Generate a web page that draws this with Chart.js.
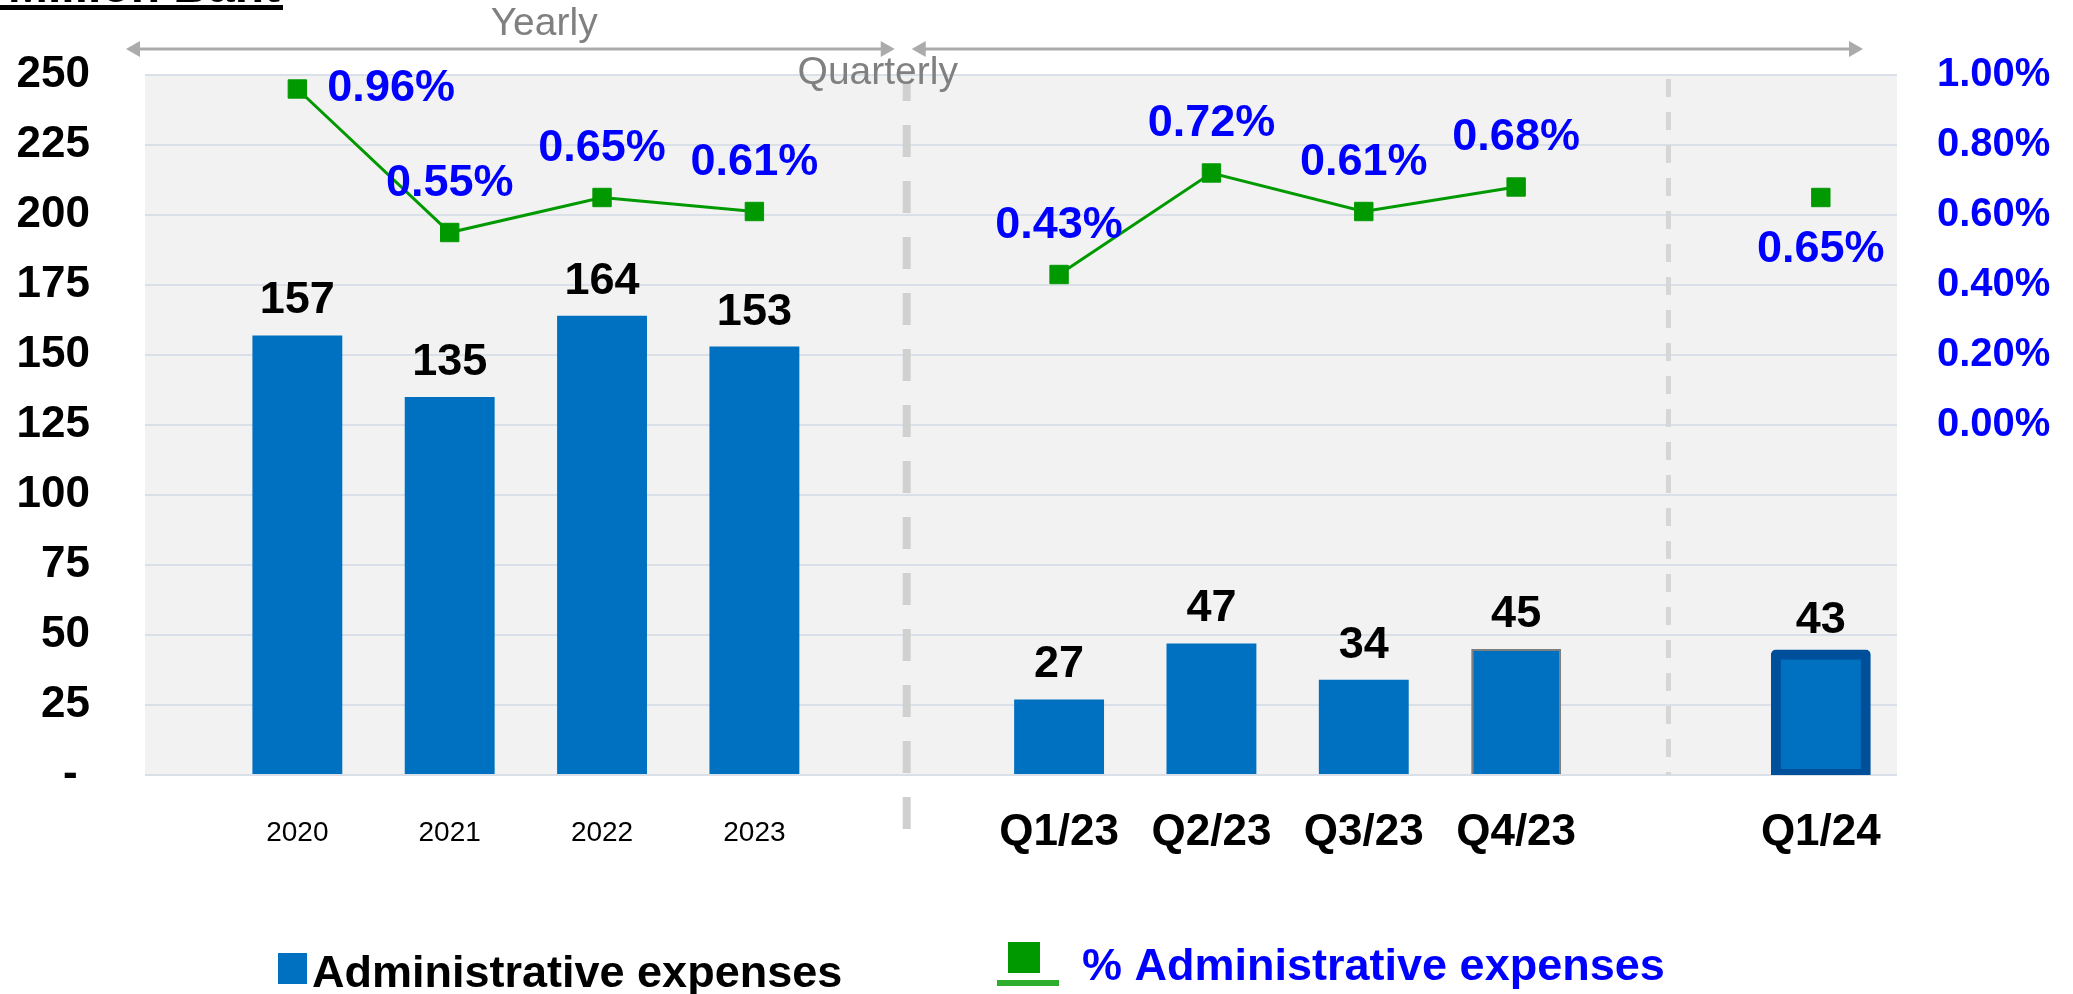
<!DOCTYPE html>
<html lang="en">
<head>
    <meta charset="utf-8" />
    <title>Administrative expenses</title>
    <script src="https://cdn.jsdelivr.net/npm/chart.js"></script>
    <style>
        html, body { margin: 0; padding: 0; background: #ffffff; }
        #chart-box { width: 2073px; height: 994px; }
    </style>
</head>
<body>
    <div id="chart-box">
        <canvas id="Chart1" width="2073" height="994"></canvas>
    </div>

    <script>
        // data
        const categories = ['2020', '2021', '2022', '2023', '', 'Q1/23', 'Q2/23', 'Q3/23', 'Q4/23', '', 'Q1/24'];
        const expenses = [157, 135, 164, 153, null, 27, 47, 34, 45, null, 43];
        const expenseRatio = [0.96, 0.55, 0.65, 0.61, null, 0.43, 0.72, 0.61, 0.68, null, 0.65];
        const ratioLabelSide = ['right', 'top', 'top', 'top', null, 'top', 'top', 'top', 'top', null, 'bottom'];
        const leftTicks = [0, 25, 50, 75, 100, 125, 150, 175, 200, 225, 250];
        const rightTicks = [0, 0.2, 0.4, 0.6, 0.8, 1.0];
        const periodNames = ['Yearly', 'Quarterly'];
        const unitTitle = 'Million Baht';

        const ARIAL = "'Liberation Sans', Arial, sans-serif";
        const BLUE = '#0070C0';
        const GREEN = '#009900';

        const gapIndexes = categories.map((c, i) => c === '' ? i : -1).filter(i => i >= 0);
        const lastIndex = categories.length - 1;

        function isQuarter(v) {
            return Number.isInteger(v) && v >= 0 && categories[v] && categories[v].charAt(0) === 'Q';
        }

        // fixed axis boxes, no extra padding from tick labels
        function fixBox(size) {
            return s => {
                if (s.isHorizontal()) s.height = size; else s.width = size;
                s.paddingTop = 0;
                s.paddingBottom = 0;
                s.paddingLeft = 0;
                s.paddingRight = 0;
            };
        }

        const backgroundPlugin = {
            id: 'plotBackground',
            beforeDraw(chart) {
                const a = chart.chartArea, ctx = chart.ctx;
                ctx.save();
                ctx.fillStyle = '#F2F2F2';
                ctx.fillRect(a.left, a.top, a.right - a.left, a.bottom - a.top);
                ctx.restore();
            }
        };

        const dividerPlugin = {
            id: 'dividers',
            beforeDatasetsDraw(chart) {
                const a = chart.chartArea, ctx = chart.ctx, x = chart.scales.x;
                ctx.save();
                // yearly / quarterly split
                let px = x.getPixelForValue(gapIndexes[0]);
                ctx.strokeStyle = '#D0D0D0';
                ctx.lineWidth = 8;
                ctx.setLineDash([32, 24]);
                ctx.beginPath();
                ctx.moveTo(px, a.bottom + 54);
                ctx.lineTo(px, a.top + 8);
                ctx.stroke();
                // latest quarter split
                px = x.getPixelForValue(gapIndexes[1]);
                ctx.strokeStyle = '#D6D6D6';
                ctx.lineWidth = 5;
                ctx.setLineDash([18, 15]);
                ctx.beginPath();
                ctx.moveTo(px, a.top + 4);
                ctx.lineTo(px, a.bottom);
                ctx.stroke();
                ctx.restore();
            }
        };

        function arrow(ctx, x1, x2, y) {
            ctx.beginPath();
            ctx.moveTo(x1 + 10, y);
            ctx.lineTo(x2 - 10, y);
            ctx.stroke();
            ctx.beginPath();
            ctx.moveTo(x1, y);
            ctx.lineTo(x1 + 14, y - 8);
            ctx.lineTo(x1 + 14, y + 8);
            ctx.closePath();
            ctx.moveTo(x2, y);
            ctx.lineTo(x2 - 14, y - 8);
            ctx.lineTo(x2 - 14, y + 8);
            ctx.closePath();
            ctx.fill();
        }

        const labelPlugin = {
            id: 'valueLabels',
            afterDatasetsDraw(chart) {
                const ctx = chart.ctx;
                ctx.save();

                // bar values
                const bars = chart.getDatasetMeta(0).data;
                ctx.font = 'bold 45px ' + ARIAL;
                ctx.fillStyle = '#000000';
                ctx.textAlign = 'center';
                ctx.textBaseline = 'alphabetic';
                bars.forEach((el, i) => {
                    if (expenses[i] == null) return;
                    ctx.fillText(String(expenses[i]), el.x, el.y - 22);
                });

                // ratio values
                const pts = chart.getDatasetMeta(1).data;
                ctx.font = 'bold 45px ' + ARIAL;
                ctx.fillStyle = '#0000FF';
                ctx.textBaseline = 'middle';
                pts.forEach((el, i) => {
                    if (expenseRatio[i] == null) return;
                    const txt = expenseRatio[i].toFixed(2) + '%';
                    const side = ratioLabelSide[i];
                    if (side === 'right') {
                        ctx.textAlign = 'left';
                        ctx.fillText(txt, el.x + 30, el.y);
                    } else if (side === 'bottom') {
                        ctx.textAlign = 'center';
                        ctx.fillText(txt, el.x, el.y + 52);
                    } else {
                        ctx.textAlign = 'center';
                        ctx.fillText(txt, el.x, el.y - 49);
                    }
                });
                ctx.restore();
            },
            afterDraw(chart) {
                const ctx = chart.ctx, x = chart.scales.x;
                ctx.save();

                // unit title, cut at the top edge
                ctx.fillStyle = '#000000';
                ctx.font = 'bold 48px ' + ARIAL;
                ctx.textAlign = 'left';
                ctx.textBaseline = 'alphabetic';
                ctx.fillText(unitTitle, 8, 2);
                ctx.fillRect(0, 5, 283, 5);

                // period arrows
                const xStart = x.getPixelForValue(x.min);
                const xGap = x.getPixelForValue(gapIndexes[0]);
                const xEnd = x.getPixelForValue(x.max);
                ctx.strokeStyle = '#ABABAB';
                ctx.fillStyle = '#ABABAB';
                ctx.lineWidth = 3;
                arrow(ctx, xStart - 19, xGap - 12, 49);
                arrow(ctx, xGap + 5, xEnd - 34, 49);

                ctx.fillStyle = '#808080';
                ctx.font = '39px ' + ARIAL;
                ctx.textAlign = 'center';
                ctx.fillText(periodNames[0], x.getPixelForValue(1.62), 35);
                ctx.fillText(periodNames[1], xGap - 29, 84);

                // legend
                const ds = chart.data.datasets;
                ctx.textAlign = 'left';
                ctx.font = 'bold 45px ' + ARIAL;
                ctx.fillStyle = BLUE;
                ctx.fillRect(278, 953, 29, 31);
                ctx.fillStyle = '#000000';
                ctx.fillText(ds[0].label, 312, 987);

                ctx.fillStyle = GREEN;
                ctx.fillRect(1008, 942, 32, 31);
                ctx.fillStyle = '#2DAF2D';
                ctx.fillRect(997, 980, 62, 6);
                ctx.fillStyle = '#0000FF';
                ctx.fillText(ds[1].label, 1082, 980);

                ctx.restore();
            }
        };

        function DrawChart(id) {
            const ctx = document.getElementById(id).getContext('2d');

            const data = {
                datasets: [{
                    type: 'bar',
                    label: 'Administrative expenses',
                    data: categories.map((c, i) => ({ x: i, y: expenses[i] })),
                    backgroundColor: BLUE,
                    borderColor: c => c.dataIndex === lastIndex ? '#004F9B' : '#7F7F7F',
                    borderWidth: c => c.dataIndex === lastIndex ? 10 : (c.dataIndex === lastIndex - 2 ? 2 : 0),
                    borderRadius: c => c.dataIndex === lastIndex ? 5 : 0,
                    borderSkipped: c => c.dataIndex === lastIndex ? false : 'start',
                    inflateAmount: c => c.dataIndex === lastIndex ? 5 : 'auto',
                    barPercentage: 0.59,
                    categoryPercentage: 1,
                    yAxisID: 'y',
                    order: 2
                }, {
                    type: 'line',
                    label: '% Administrative expenses',
                    data: categories.map((c, i) => ({ x: i, y: expenseRatio[i] })),
                    borderColor: GREEN,
                    borderWidth: 3,
                    pointStyle: 'rect',
                    pointRadius: 13,
                    pointBackgroundColor: GREEN,
                    pointBorderColor: GREEN,
                    pointBorderWidth: 1,
                    spanGaps: false,
                    tension: 0,
                    yAxisID: 'y1',
                    order: 1
                }]
            };

            const config = {
                type: 'bar',
                data: data,
                options: {
                    responsive: false,
                    animation: false,
                    devicePixelRatio: 1,
                    layout: {
                        padding: { top: 75, left: 0, right: 0, bottom: 0 }
                    },
                    plugins: {
                        legend: { display: false },
                        tooltip: { enabled: false }
                    },
                    scales: {
                        x: {
                            type: 'linear',
                            offset: false,
                            min: -1,
                            max: lastIndex + 0.5,
                            grid: { display: false, offset: false },
                            border: { display: false },
                            afterFit: fixBox(219),
                            afterBuildTicks: s => { s.ticks = categories.map((c, i) => ({ value: i })); },
                            ticks: {
                                autoSkip: false,
                                maxRotation: 0,
                                padding: 24,
                                color: '#000000',
                                callback: v => categories[v] || '',
                                font: c => isQuarter(c.tick ? c.tick.value : -1)
                                    ? { family: ARIAL, size: 44, weight: 'bold', lineHeight: '52px' }
                                    : { family: ARIAL, size: 28, weight: 'normal', lineHeight: '52px' }
                            }
                        },
                        y: {
                            position: 'left',
                            min: leftTicks[0],
                            max: leftTicks[leftTicks.length - 1],
                            afterFit: fixBox(145),
                            afterBuildTicks: s => { s.ticks = leftTicks.map(v => ({ value: v })); },
                            grid: { color: '#DAE0E7', lineWidth: 2, drawTicks: false },
                            border: { display: false },
                            ticks: {
                                padding: 55,
                                color: '#000000',
                                font: { family: ARIAL, size: 44, weight: 'bold' },
                                callback: v => v === 0 ? '- ' : String(v)
                            }
                        },
                        y1: {
                            position: 'right',
                            min: -1,
                            max: 1,
                            afterFit: fixBox(176),
                            afterBuildTicks: s => { s.ticks = rightTicks.map(v => ({ value: v })); },
                            grid: { display: false, drawTicks: false },
                            border: { display: false },
                            ticks: {
                                padding: 40,
                                color: '#0000FF',
                                font: { family: ARIAL, size: 40, weight: 'bold' },
                                callback: v => v.toFixed(2) + '%'
                            }
                        }
                    }
                },
                plugins: [backgroundPlugin, dividerPlugin, labelPlugin]
            };

            return new Chart(ctx, config);
        }

        var Chart1 = DrawChart('Chart1');
    </script>
</body>
</html>
